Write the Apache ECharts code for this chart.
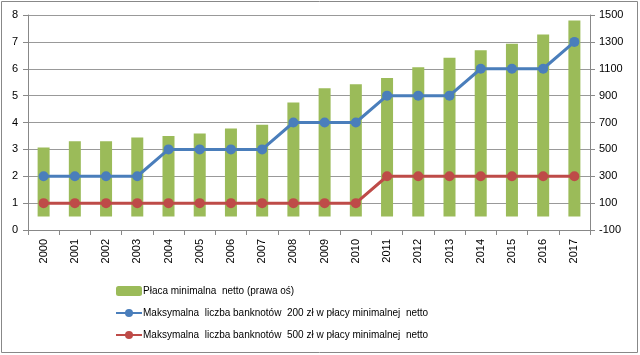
<!DOCTYPE html>
<html>
<head>
<meta charset="utf-8">
<script src="https://cdn.jsdelivr.net/npm/echarts@6/dist/echarts.min.js"></script>
<style>
html,body{margin:0;padding:0;background:#fff;}
#c{width:640px;height:355px;}
</style>
</head>
<body>
<div id="c"></div>
<script>
var years = ['2000','2001','2002','2003','2004','2005','2006','2007','2008','2009','2010','2011','2012','2013','2014','2015','2016','2017'];
var minWageNet = [514, 561, 561, 588, 600, 619, 656, 684, 848, 955, 984, 1032, 1111, 1181, 1237, 1286, 1355, 1459];
var notes200 = [2, 2, 2, 2, 3, 3, 3, 3, 4, 4, 4, 5, 5, 5, 6, 6, 6, 7];
var notes500 = [1, 1, 1, 1, 1, 1, 1, 1, 1, 1, 1, 2, 2, 2, 2, 2, 2, 2];
var seriesNames = ['Płaca minimalna  netto (prawa oś)', 'Maksymalna  liczba banknotów  200 zł w płacy minimalnej  netto', 'Maksymalna  liczba banknotów  500 zł w płacy minimalnej  netto'];

var font = 'Liberation Sans, Arial, sans-serif';
var chart = echarts.init(document.getElementById('c'), null, {renderer: 'canvas'});
chart.setOption({
  animation: false,
  backgroundColor: '#ffffff',
  textStyle: {fontFamily: font},
  graphic: [{
    type: 'rect',
    shape: {x: 1.5, y: 1.5, width: 636, height: 351},
    style: {fill: 'none', stroke: '#888888', lineWidth: 1},
    silent: true
  }],
  grid: {left: 28, right: 50, top: 15, bottom: 125, containLabel: false},
  legend: {
    orient: 'vertical',
    left: 110,
    top: 281,
    itemGap: 12,
    itemWidth: 26,
    itemHeight: 10,
    textStyle: {fontFamily: font, fontSize: 10, color: '#000', padding: [0,0,0,-4]},
    data: seriesNames
  },
  xAxis: {
    type: 'category',
    data: years,
    boundaryGap: true,
    axisLine: {lineStyle: {color: '#888888'}},
    axisTick: {show: true, length: 5, lineStyle: {color: '#888888'}},
    axisLabel: {rotate: 90, fontSize: 11, color: '#000', fontFamily: font, margin: 9}
  },
  yAxis: [{
    type: 'value',
    min: 0, max: 8, interval: 1,
    position: 'left',
    axisLine: {show: true, lineStyle: {color: '#888888'}},
    axisTick: {show: true, length: 5, lineStyle: {color: '#888888'}},
    splitLine: {show: true, lineStyle: {color: '#999999', width: 1}},
    axisLabel: {fontSize: 11, color: '#000', fontFamily: font, margin: 10}
  }, {
    type: 'value',
    min: -100, max: 1500, interval: 200,
    position: 'right',
    axisLine: {show: true, lineStyle: {color: '#888888'}},
    axisTick: {show: true, length: 5, lineStyle: {color: '#888888'}},
    splitLine: {show: false},
    axisLabel: {fontSize: 11, color: '#000', fontFamily: font, margin: 9,
      formatter: function (v) { return String(v); }}
  }],
  series: [{
    name: seriesNames[0],
    type: 'bar',
    yAxisIndex: 1,
    data: minWageNet,
    barWidth: 12,
    itemStyle: {color: '#9BBB59'}
  }, {
    name: seriesNames[1],
    type: 'line',
    yAxisIndex: 0,
    data: notes200,
    symbol: 'circle',
    symbolSize: 10,
    lineStyle: {color: '#4A7EBB', width: 3},
    itemStyle: {color: '#4A7EBB'}
  }, {
    name: seriesNames[2],
    type: 'line',
    yAxisIndex: 0,
    data: notes500,
    symbol: 'circle',
    symbolSize: 10,
    lineStyle: {color: '#BE4B48', width: 3},
    itemStyle: {color: '#BE4B48'}
  }]
});
</script>
</body>
</html>
